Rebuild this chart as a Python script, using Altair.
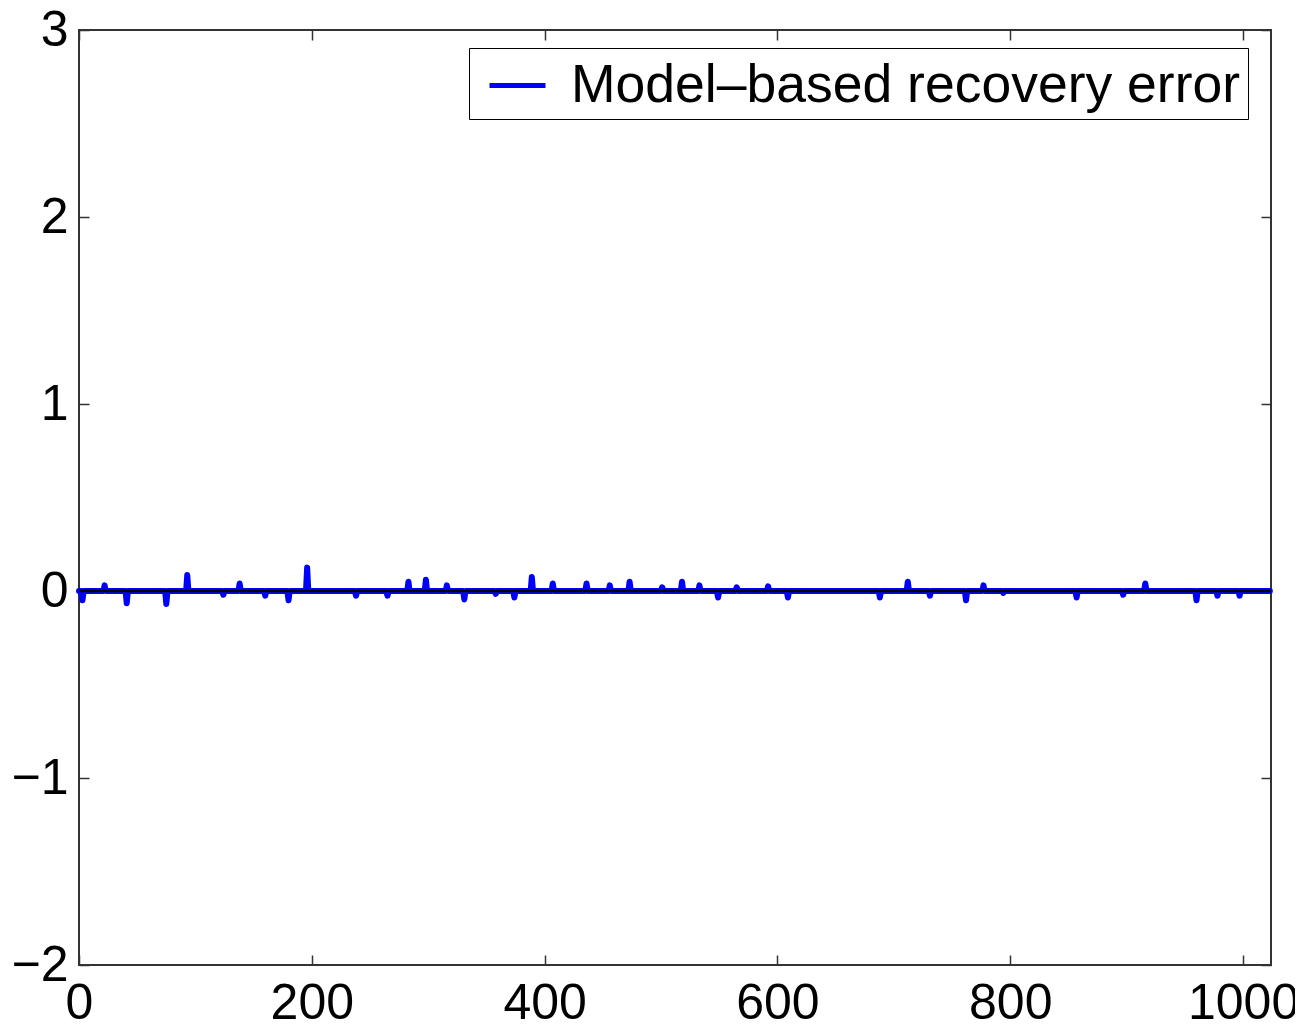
import altair as alt
import numpy as np
import pandas as pd

# ---- data ----
n_samples = 1024
spike_x = [3, 22, 41, 75, 93, 124, 138, 160, 180, 196, 238, 265, 283, 298, 316,
           331, 358, 374, 389, 407, 436, 456, 473, 501, 518, 533, 549, 565, 592,
           609, 688, 712, 731, 762, 777, 794, 857, 897, 916, 960, 978, 997]
spike_y = [-0.05, 0.03, -0.065, -0.07, 0.085, -0.02, 0.04, -0.025, -0.05, 0.125,
           -0.025, -0.025, 0.05, 0.06, 0.03, -0.045, -0.015, -0.035, 0.075, 0.04,
           0.04, 0.03, 0.05, 0.02, 0.05, 0.03, -0.035, 0.02, 0.025, -0.035,
           -0.035, 0.05, -0.025, -0.05, 0.03, -0.01, -0.035, -0.02, 0.04, -0.05,
           -0.025, -0.025]
series_name = "Model–based recovery error"
x_ticks = [0, 200, 400, 600, 800, 1000]
y_ticks = [-2, -1, 0, 1, 2, 3]

err = np.zeros(n_samples)
err[spike_x] = spike_y
df = pd.DataFrame({"n": np.arange(n_samples), "err": err, "series": series_name})
zero_df = pd.DataFrame({"y": [0.0]})

FONT = "Liberation Sans"
FS = 50

x_scale = alt.Scale(domain=[0, 1024], nice=False, zero=False)
y_scale = alt.Scale(domain=[-2, 3], nice=False, zero=False)

common = dict(offset=-10, tickSize=10, domain=False, grid=False, title=None,
              tickColor="#333333", tickWidth=1.5, labelFont=FONT,
              labelFontSize=FS, labelColor="black", labelFlush=False,
              labelOverlap=False, format="d")

x_axis = alt.Axis(values=x_ticks, orient="bottom", labelPadding=13, **common)
y_axis = alt.Axis(values=y_ticks, orient="left", labelPadding=11, **common)
x_axis_top = alt.Axis(values=x_ticks, orient="top", labels=False, **common)
y_axis_right = alt.Axis(values=y_ticks, orient="right", labels=False, **common)

line = alt.Chart(df).mark_line(strokeWidth=6, strokeJoin="round", strokeCap="round").encode(
    x=alt.X("n:Q", scale=x_scale, axis=x_axis),
    y=alt.Y("err:Q", scale=y_scale, axis=y_axis),
    color=alt.Color("series:N",
                    scale=alt.Scale(domain=[series_name], range=["#0000ff"]),
                    legend=alt.Legend(title=None, orient="none", legendX=390, legendY=18,
                                      symbolType="stroke", symbolSize=3136,
                                      symbolStrokeWidth=5, labelFontSize=53.5,
                                      labelFont=FONT, labelColor="black",
                                      labelOffset=23, padding=7, symbolOffset=11,
                                      strokeColor="black", fillColor="white",
                                      labelLimit=1000)),
)

zero_line = alt.Chart(zero_df).mark_rule(color="black", strokeWidth=2.5).encode(
    y=alt.Y("y:Q", scale=y_scale, axis=None)
)

mirror = alt.Chart(zero_df).mark_point(opacity=0).encode(
    x=alt.X("y:Q", scale=x_scale, axis=x_axis_top),
    y=alt.Y("y:Q", scale=y_scale, axis=y_axis_right),
)

chart = alt.layer(line, zero_line, mirror).resolve_axis(
    x="independent", y="independent"
).properties(
    width=1192, height=935,
    autosize=alt.AutoSizeParams(type="none"),
    padding={"left": 71, "top": 22, "right": 24, "bottom": 54},
    view=alt.ViewBackground(stroke="#333333", strokeWidth=2),
).configure(background="white")

chart.save("out.html", embed_options={"renderer": "svg", "actions": False})
